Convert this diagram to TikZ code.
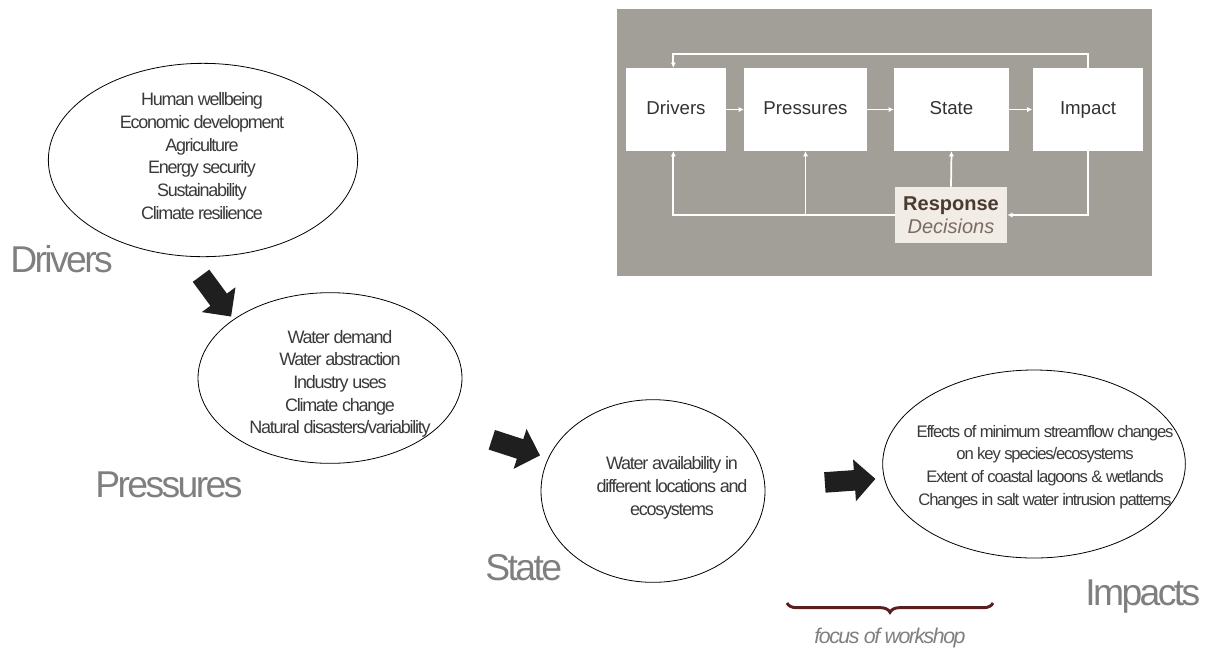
\documentclass[tikz,border=0pt]{standalone}
\usepackage{fontspec}
\setmainfont{Liberation Sans}
\newfontfamily\tightfont[LetterSpace=-7]{Liberation Sans}
\usetikzlibrary{arrows.meta, positioning, shapes.geometric, shapes.arrows, decorations.pathreplacing}
\definecolor{panelgray}{HTML}{A29E98}
\definecolor{lblgray}{HTML}{7F7F7F}
\definecolor{txtgray}{HTML}{3A3A3A}
\definecolor{respfill}{HTML}{F1ECE6}
\definecolor{respbrown}{HTML}{4B3A30}
\definecolor{decgray}{HTML}{7A6C62}
\definecolor{bracered}{HTML}{5A1E1E}

\begin{document}
\begin{tikzpicture}[x=0.75pt, y=-0.75pt,
    every node/.style={inner sep=0pt},
    oval/.style={draw, ellipse, line width=0.6pt, fill=white},
    otxt/.style={align=center, font=\tightfont\fontsize{13.5}{17}\selectfont, text=txtgray},
    big/.style={anchor=base west, font=\tightfont\fontsize{28}{30}\selectfont, text=lblgray},
    fat/.style={single arrow, fill=black!88, inner sep=7.5pt, minimum height=38pt, single arrow head extend=8pt},
    box/.style={fill=white, minimum height=62pt, text height=10pt, text depth=3pt, font=\fontsize{14}{16}\selectfont, text=black!80},
    wl/.style={draw=white, line width=1.3pt, -{Latex[length=4pt, width=4pt]}}
]
\useasboundingbox (0,0) rectangle (1213,651);
% DPSIR panel
\fill[panelgray] (617,9) rectangle (1152,276);
\node[box, minimum width=75pt]   (drvb) at (676,109.5)  {Drivers};
\node[box, minimum width=92pt]   (prsb) at (805.5,109.5) {Pressures};
\node[box, minimum width=86pt]   (stab) at (951.5,109.5) {State};
\node[box, minimum width=83pt]   (impb) at (1088,109.5)  {Impact};
\node[fill=respfill, minimum width=84pt, minimum height=42pt, align=center, font=\fontsize{15}{17}\selectfont] (resp) at (951,215)
  {\textbf{\color{respbrown}Response}\\\textit{\color{decgray}Decisions}};
\draw[wl] (drvb)--(prsb);
\draw[wl] (prsb)--(stab);
\draw[wl] (stab)--(impb);
\draw[wl] (impb.north) -- (impb.north |- 0,54) -| ([xshift=-2pt]drvb.north);
\draw[wl] (impb.south) |- (resp.east);
\draw[wl] (resp.west) -| ([xshift=-2pt]drvb.south);
\draw[wl] (prsb.south |- resp.west) -- (prsb.south);
\draw[wl] (resp.north) -- (stab.south);
% ellipses
\node[oval, minimum width=232pt, minimum height=145pt] (drv) at (203,160) {};
\node[otxt] (drvtxt) at (202,156) {Human wellbeing\\Economic development\\Agriculture\\Energy security\\Sustainability\\Climate resilience};
\node[oval, minimum width=198pt, minimum height=128pt] (prs) at (330,378) {};
\node[otxt] (prstxt) at (340,384) {Water demand\\Water abstraction\\Industry uses\\Climate change\\Natural disasters/variability};
\node[oval, minimum width=168pt, minimum height=137pt] (sta) at (653,491) {};
\node[otxt] (statxt) at (672,488) {Water availability in\\different locations and\\ecosystems};
\node[oval, minimum width=227pt, minimum height=141pt] (imp) at (1034,464) {};
\node[otxt, font=\tightfont\fontsize{12.5}{17}\selectfont] (imptxt) at (1045,467) {Effects of minimum streamflow changes\\on key species/ecosystems\\Extent of coastal lagoons \& wetlands\\Changes in salt water intrusion patterns};
% big labels
\node[big] (drvlbl) at (10,272) {Drivers};
\node[big] (prslbl) at (95,497) {Pressures};
\node[big] (stalbl) at (485,580) {State};
\node[big] (implbl) at (1085,605) {Impacts};
% block arrows
\node[fat, rotate=-53.6] (a1) at (213,292) {};
\node[fat, rotate=-18]   (a2) at (511,446) {};
\node[fat, rotate=4]     (a3) at (845,481) {};
% workshop brace
\coordinate (brl) at (787,603);
\coordinate (brr) at (993,603);
\draw[bracered, line width=2.2pt, decorate, decoration={brace, mirror, amplitude=7pt}] (brl) -- (brr);
\node[font=\tightfont\itshape\fontsize{16}{18}\selectfont, text=lblgray] (foc) at (890,638) {focus of workshop};
\end{tikzpicture}
\end{document}
